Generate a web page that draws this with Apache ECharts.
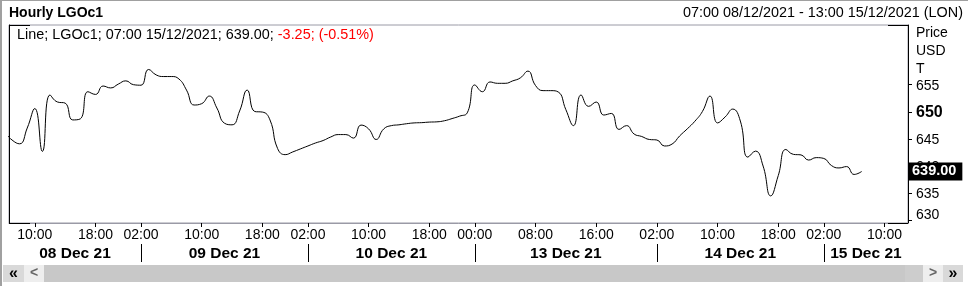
<!DOCTYPE html>
<html><head><meta charset="utf-8">
<script src="https://cdn.jsdelivr.net/npm/echarts@6/dist/echarts.min.js"></script>
<style>html,body{margin:0;padding:0;background:#fff}#c{width:968px;height:286px}</style>
</head><body><div id="c"></div>
<script>
// ---- data ----
const sessionDays = ['08 Dec 21', '09 Dec 21', '10 Dec 21', '13 Dec 21', '14 Dec 21', '15 Dec 21'];
const sessionFirstHour = [6, 1, 1, -1, 1, 1];   // -1 = 23:00 of the previous day
const sessionLastHour = [22, 22, 22, 22, 22, 13];
const prices = [
  646.3, 644.8, 644.1, 647.0, 650.6, 642.7, 653.1, 651.8, 651.6, 648.5,
  648.7, 653.7, 653.2, 654.75, 654.4, 655.1, 655.7, 655.0, 654.9, 657.8,
  656.8, 656.5, 656.5, 656.05, 654.0, 651.25, 651.5, 652.9, 650.7, 647.9,
  647.6, 650.15, 654.0, 650.05, 649.95, 648.5, 643.25, 642.1, 642.6, 643.15,
  643.7, 644.25, 644.7, 645.35, 645.8, 645.8, 645.15, 647.55, 646.85, 644.9,
  646.85, 647.45, 647.6, 647.8, 647.95, 648.0, 648.1, 648.15, 648.35, 648.75,
  649.2, 649.8, 654.95, 653.7, 655.5, 655.25, 655.25, 655.7, 656.25, 657.5,
  654.85, 653.9, 653.9, 653.65, 650.4, 647.45, 653.1, 651.0, 651.8, 649.4,
  649.7, 646.75, 647.45, 645.9, 645.45, 644.9, 644.8, 643.7, 644.05, 645.55,
  646.85, 648.25, 650.05, 652.9, 647.95, 649.05, 650.5, 648.3, 641.65, 642.75,
  640.0, 634.5, 638.25, 643.05, 642.15, 642.05, 641.1, 641.55, 641.4, 640.1,
  639.65, 639.9, 638.45, 639.0
];
const timeTicks = [
  ['08 Dec 21', '10:00'], ['08 Dec 21', '18:00'],
  ['09 Dec 21', '02:00'], ['09 Dec 21', '10:00'], ['09 Dec 21', '18:00'],
  ['10 Dec 21', '02:00'], ['10 Dec 21', '10:00'], ['10 Dec 21', '18:00'],
  ['13 Dec 21', '00:00'], ['13 Dec 21', '08:00'], ['13 Dec 21', '16:00'],
  ['14 Dec 21', '02:00'], ['14 Dec 21', '10:00'], ['14 Dec 21', '18:00'],
  ['15 Dec 21', '02:00'], ['15 Dec 21', '10:00']
];
const priceTicks = [630, 635, 640, 645, 650, 655];
const boldPrice = 650;
const lastPrice = 639.0;
const titleText = 'Hourly LGOc1';
const rangeText = '07:00 08/12/2021 - 13:00 15/12/2021 (LON)';
const legendMain = 'Line; LGOc1; 07:00 15/12/2021; 639.00; ';
const legendChange = '-3.25; (-0.51%)';
const axisTitle = 'Price\nUSD\nT';

// ---- build ----
const FONT = 'Liberation Sans, Arial, sans-serif';
const pad = n => (n < 10 ? '0' : '') + n;
const cats = [];
sessionDays.forEach((d, s) => {
  for (let h = sessionFirstHour[s]; h <= sessionLastHour[s]; h++) {
    cats.push({ day: d, hour: pad((h + 24) % 24) + ':00' });
  }
});
const tickIdx = timeTicks.map(([d, h]) => cats.findIndex(c => c.day === d && c.hour === h));
const xMin = 0.6, xMax = cats.length - 0.9;
const sepIdx = [];
sessionDays.forEach((d, s) => {
  if (s === 0) return;
  const k = timeTicks.findIndex(t => t[0] === d);
  sepIdx.push(tickIdx[k]);
});
const bounds = [xMin, ...sepIdx, xMax];
const dayMid = sessionDays.map((d, s) => (bounds[s] + bounds[s + 1]) / 2);
const seriesData = prices.map((v, i) => [i, v]);

const chart = echarts.init(document.getElementById('c'), null, { renderer: 'canvas' });
const GRAYLINE = '#9a9aa6';
const gL = 9, gR = 908, gT = 25, gB = 223;
chart.setOption({
  animation: false,
  backgroundColor: '#fff',
  textStyle: { fontFamily: FONT },
  title: [
    { text: titleText, left: 9, top: 6, padding: 0, textStyle: { fontFamily: FONT, fontSize: 14, fontWeight: 'bold', color: '#000' } },
    { text: rangeText, right: 5, top: 6, padding: 0, textStyle: { fontFamily: FONT, fontSize: 14.4, fontWeight: 'normal', color: '#000' } },
    { text: '{k|' + legendMain + '}{r|' + legendChange + '}', left: 17, top: 28, padding: 0,
      textStyle: { fontFamily: FONT, fontSize: 14.4, fontWeight: 'normal', rich: {
        k: { fontFamily: FONT, fontSize: 14.4, color: '#000' },
        r: { fontFamily: FONT, fontSize: 14.4, color: '#ff0000' } } } },
    { text: axisTitle, left: 916, top: 24, padding: 0, textStyle: { fontFamily: FONT, fontSize: 14, fontWeight: 'normal', color: '#000', lineHeight: 18 } }
  ],
  grid: { left: gL, right: 968 - gR, top: gT, bottom: 286 - gB, show: true, borderColor: GRAYLINE, borderWidth: 1, backgroundColor: '#fff' },
  xAxis: [
    { type: 'value', min: xMin, max: xMax, position: 'bottom',
      axisLine: { show: true, lineStyle: { color: GRAYLINE } },
      axisTick: { show: true, customValues: tickIdx, length: 4, lineStyle: { color: '#000' } },
      axisLabel: { show: true, customValues: tickIdx, margin: 5, fontFamily: FONT, fontSize: 14, color: '#000',
        formatter: v => cats[Math.round(v)].hour },
      splitLine: { show: false } },
    { type: 'value', min: xMin, max: xMax, position: 'bottom', offset: 21,
      axisLine: { show: false },
      axisTick: { show: true, customValues: sepIdx, length: 18, lineStyle: { color: '#000' } },
      axisLabel: { show: true, customValues: dayMid, margin: 2, fontFamily: FONT, fontSize: 15.5, fontWeight: 'bold', color: '#000',
        formatter: v => { const s = dayMid.findIndex(m => Math.abs(m - v) < 1e-6); return s >= 0 ? sessionDays[s] : ''; } },
      splitLine: { show: false } }
  ],
  yAxis: [
    { type: 'value', position: 'right', min: 629.5, max: 666,
      axisLine: { show: true, lineStyle: { color: '#000' } },
      axisTick: { show: true, customValues: priceTicks, length: 4, lineStyle: { color: '#000' } },
      axisLabel: { show: true, customValues: priceTicks, margin: 8, fontFamily: FONT, fontSize: 14, color: '#000', padding: [2, 0, 0, 0],
        formatter: v => v === boldPrice ? '{b|' + v + '}' : (v === priceTicks[0] ? '{lo|' + v + '}' : String(v)),
        rich: { b: { fontFamily: FONT, fontSize: 16, fontWeight: 'bold', color: '#000' },
                lo: { fontFamily: FONT, fontSize: 14, color: '#000', padding: [0, 0, 12, 0] } } },
      splitLine: { show: false } },
    { type: 'value', position: 'left', min: 629.5, max: 666,
      axisLine: { show: true, lineStyle: { color: '#000' } },
      axisTick: { show: false }, axisLabel: { show: false }, splitLine: { show: false } }
  ],
  series: [{
    type: 'line', xAxisIndex: 0, yAxisIndex: 0, data: seriesData, smooth: 0.5, symbol: 'none', clip: true,
    lineStyle: { color: '#000', width: 1 },
    markLine: { silent: true, symbol: 'none', animation: false, z: 20,
      lineStyle: { color: 'rgba(0,0,0,0)', width: 0, type: 'solid' },
      emphasis: { disabled: true },
      label: { show: true, position: 'end', distance: 0, formatter: lastPrice.toFixed(2), backgroundColor: '#000', color: '#fff',
        fontFamily: FONT, fontSize: 14.5, fontWeight: 'bold', padding: [2, 6, 1, 4], opacity: 1 },
      data: [{ yAxis: lastPrice }] }
  }],
  graphic: [
    // outer frame
    { type: 'line', shape: { x1: 0, y1: 0.5, x2: 968, y2: 0.5 }, style: { stroke: '#a0a0a0', lineWidth: 1 } },
    { type: 'line', shape: { x1: 1, y1: 0, x2: 1, y2: 286 }, style: { stroke: '#a0a0a0', lineWidth: 2 } },
    // black corner segments of plot frame
    { type: 'line', shape: { x1: gL, y1: gT + 0.5, x2: 30, y2: gT + 0.5 }, style: { stroke: '#000', lineWidth: 1 }, z: 10 },
    { type: 'line', shape: { x1: gL, y1: gB + 0.5, x2: 30, y2: gB + 0.5 }, style: { stroke: '#000', lineWidth: 1 }, z: 10 },
    { type: 'line', shape: { x1: 888, y1: gT + 0.5, x2: gR, y2: gT + 0.5 }, style: { stroke: '#000', lineWidth: 1 }, z: 10 },
    { type: 'line', shape: { x1: 888, y1: gB + 0.5, x2: gR, y2: gB + 0.5 }, style: { stroke: '#000', lineWidth: 1 }, z: 10 },
    // scrollbar
    { type: 'rect', shape: { x: 3, y: 265, width: 21, height: 17 }, style: { fill: '#d9d9d9' } },
    { type: 'rect', shape: { x: 24, y: 265, width: 20, height: 17 }, style: { fill: '#eeeeee' } },
    { type: 'rect', shape: { x: 44, y: 265, width: 861, height: 17 }, style: { fill: '#c8c8c8' } },
    { type: 'rect', shape: { x: 905, y: 265, width: 18, height: 17 }, style: { fill: '#cdcdcd' } },
    { type: 'rect', shape: { x: 923, y: 265, width: 20, height: 17 }, style: { fill: '#eeeeee' } },
    { type: 'rect', shape: { x: 943, y: 265, width: 20, height: 17 }, style: { fill: '#d9d9d9' } },
    { type: 'text', x: 13.5, y: 273.5, style: { text: '«', fill: '#000', font: 'bold 16px ' + FONT, align: 'center', verticalAlign: 'middle' } },
    { type: 'text', x: 34, y: 273.5, style: { text: '<', fill: '#666', font: 'bold 14px ' + FONT, align: 'center', verticalAlign: 'middle' } },
    { type: 'text', x: 933, y: 273.5, style: { text: '>', fill: '#666', font: 'bold 14px ' + FONT, align: 'center', verticalAlign: 'middle' } },
    { type: 'text', x: 953, y: 273.5, style: { text: '»', fill: '#000', font: 'bold 16px ' + FONT, align: 'center', verticalAlign: 'middle' } }
  ]
});
</script></body></html>
